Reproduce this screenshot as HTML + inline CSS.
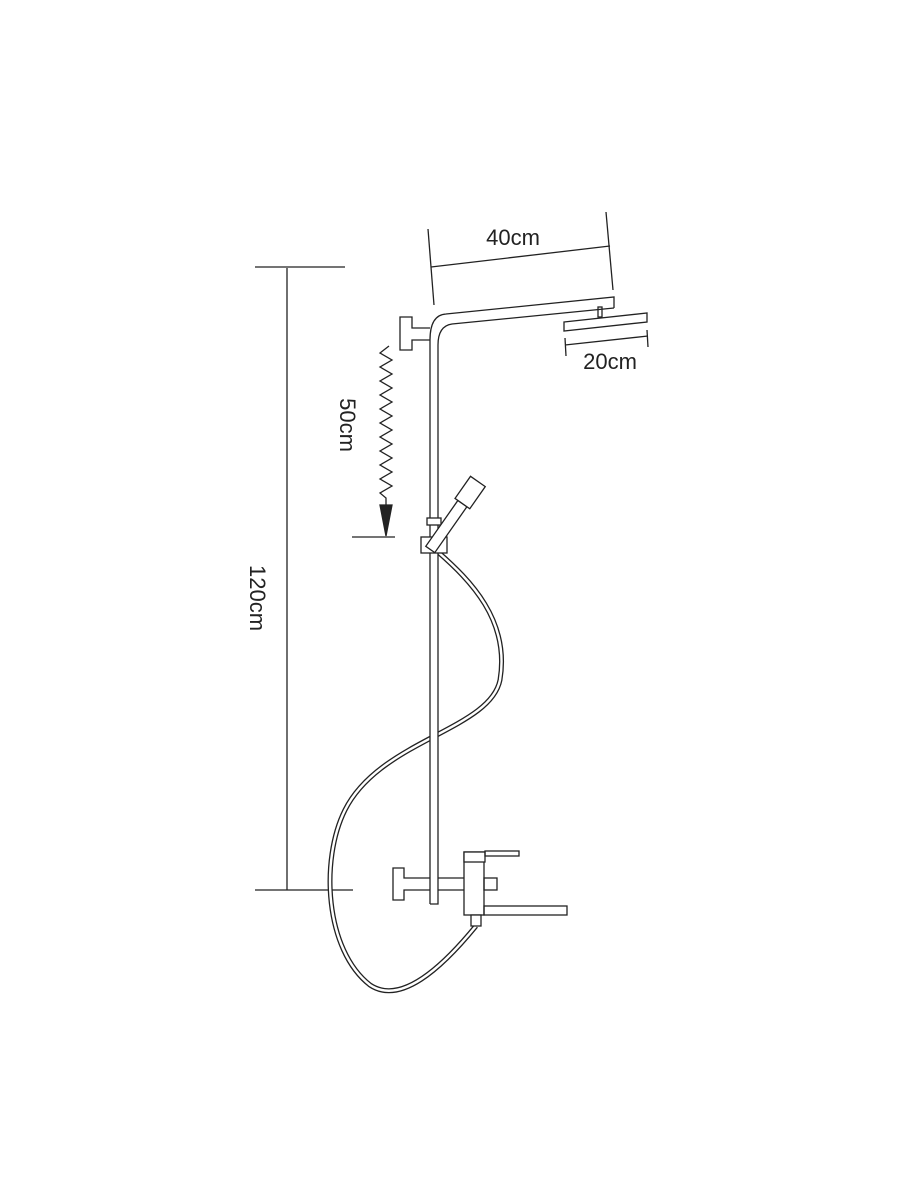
<!DOCTYPE html>
<html><head><style>body{margin:0;background:#fff}svg{display:block}text{font-family:"Liberation Sans",sans-serif;fill:#222}</style></head>
<body>
<svg width="900" height="1200" viewBox="0 0 900 1200" xmlns="http://www.w3.org/2000/svg" fill="none" stroke="#222" stroke-width="1.3">
<!-- 120cm -->
<line x1="287" y1="268" x2="287" y2="890"/>
<line x1="255" y1="267" x2="345" y2="267"/>
<line x1="255" y1="890" x2="353" y2="890"/>
<text x="0" y="0" font-size="22" transform="translate(250,598) rotate(90)" text-anchor="middle" stroke="none">120cm</text>
<!-- 40cm -->
<line x1="428" y1="229" x2="434" y2="305"/>
<line x1="606" y1="212" x2="613" y2="290"/>
<line x1="431" y1="267" x2="610" y2="246"/>
<text x="513" y="245" font-size="22" text-anchor="middle" stroke="none">40cm</text>
<!-- 20cm -->
<line x1="565" y1="338" x2="566" y2="356"/>
<line x1="647" y1="330" x2="648" y2="347"/>
<line x1="565" y1="345" x2="648" y2="336"/>
<text x="610" y="369" font-size="22" text-anchor="middle" stroke="none">20cm</text>
<!-- 50cm -->
<polyline points="389,346 380,353 392,360 380,367 392,374 380,381 392,388 380,395 392,402 380,409 392,416 380,423 392,430 380,437 392,444 380,451 392,458 380,465 392,472 380,479 392,486 380,493 386,498 386,505"/>
<polygon points="380,505 392,505 386,536" fill="#222"/>
<line x1="352" y1="537" x2="395" y2="537"/>
<text x="0" y="0" font-size="22" transform="translate(340,425) rotate(90)" text-anchor="middle" stroke="none">50cm</text>
<!-- hose -->
<path d="M438,552 C470,580 510,620 500,680 C490,730 380,740 345,810 C320,860 325,950 370,985 C400,1005 440,970 476,926" stroke="#222" stroke-width="5"/>
<path d="M438,552 C470,580 510,620 500,680 C490,730 380,740 345,810 C320,860 325,950 370,985 C400,1005 440,970 476,926" stroke="#fff" stroke-width="2.4"/>
<!-- pole + arm -->
<rect x="430" y="340" width="8" height="564" fill="#fff" stroke="none"/>
<path d="M430,904 L430,340 Q430,315 446,314 L614,297 L614,308"/>
<path d="M430,904 L438,904 L438,345 Q438,326 452,324 L614,308"/>
<!-- top bracket -->
<path d="M430,328 L412,328 L412,317 L400,317 L400,350 L412,350 L412,340 L430,340"/>
<!-- shower head -->
<rect x="598" y="307" width="4" height="10"/>
<polygon points="564,322 647,313 647,322 564,331" fill="#fff"/>
<!-- slider & holder -->
<rect x="427" y="518" width="14" height="7" fill="#fff"/>
<rect x="421" y="537" width="26" height="16" fill="#fff"/>
<g transform="translate(432,547) rotate(-55)">
<rect x="-3" y="-5.5" width="56" height="11" fill="#fff"/>
<rect x="53" y="-9" width="27" height="18" fill="#fff"/>
</g>
<!-- bottom mixer -->
<path d="M430,878 L404,878 L404,868 L393,868 L393,900 L404,900 L404,890 L430,890 M438,878 L464,878 M438,890 L464,890"/>
<rect x="464" y="852" width="20" height="63" fill="#fff"/>
<rect x="464" y="852" width="21" height="10" fill="#fff"/>
<rect x="485" y="851" width="34" height="5"/>
<rect x="484" y="878" width="13" height="12"/>
<rect x="484" y="906" width="83" height="9"/>
<rect x="471" y="915" width="10" height="11" fill="#fff"/>
</svg>
</body></html>
